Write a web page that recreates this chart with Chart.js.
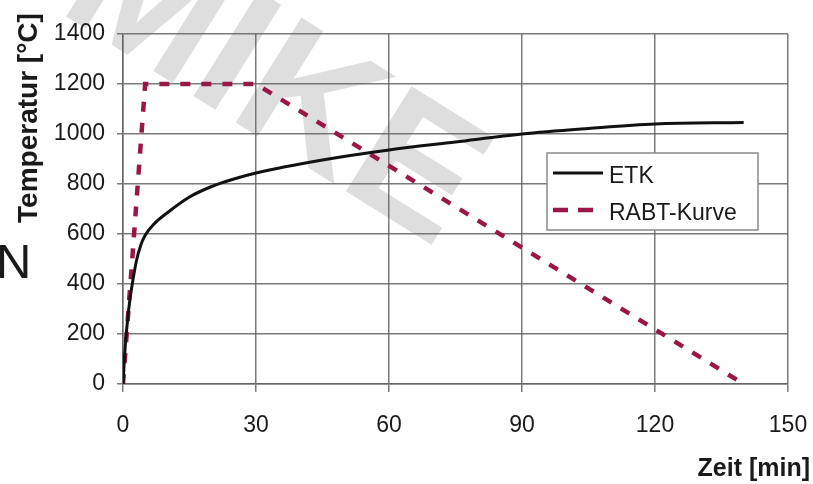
<!DOCTYPE html>
<html lang="de">
<head>
<meta charset="utf-8">
<title>ETK / RABT-Kurve</title>
<script src="https://cdn.jsdelivr.net/npm/chart.js@4/dist/chart.umd.min.js"></script>
<style>
    html, body { margin: 0; padding: 0; background: #fff; }
    #wrap { width: 813px; height: 484px; position: relative; }
</style>
</head>
<body>
<div id="wrap"><canvas id="temp-chart"></canvas></div>
<script>
// === DATA ===
const xTicks = [0, 30, 60, 90, 120, 150];
const yTicks = [0, 200, 400, 600, 800, 1000, 1200, 1400];

const etkTime = [0, 0.5, 1, 1.5, 2, 3, 4, 5, 7, 10, 15, 20, 25, 30, 45, 60, 75, 90, 105, 120, 140];
const etkTemp = [0, 150, 250, 330, 390, 490, 555, 595, 640, 685, 748, 790, 820, 844, 896, 936, 968, 1000, 1022, 1040, 1046];

const rabtTime = [0, 5, 30, 140];
const rabtTemp = [0, 1200, 1200, 0];

const seriesLabels = ['ETK', 'RABT-Kurve'];

document.addEventListener('DOMContentLoaded', () => {
    const canvas = document.getElementById('temp-chart');
    const ctx = canvas.getContext('2d');

    const FONT = '"Liberation Sans", Arial, sans-serif';
    const GRID = 'rgba(100,100,100,0.85)';
    const RED = '#9a1648';

    const toPoints = (xs, ys) => xs.map((x, i) => ({ x: x, y: ys[i] }));

    // no extra room for label overhang, the padding below sets the plot box
    const noOverhang = (scale) => {
        scale.paddingLeft = 0;
        scale.paddingRight = 0;
        scale.paddingTop = 0;
        scale.paddingBottom = 0;
    };

    // === PLUGINS: watermark, titles, legend box ===
    const decorPlugin = {
        id: 'decor',
        beforeDraw: (chart) => {
            const c = chart.ctx;
            c.save();
            c.fillStyle = '#dedede';
            c.font = 'bold 180px ' + FONT;
            c.translate(56, 10);
            c.rotate(32 * Math.PI / 180);
            c.fillText('MIKE', 0, 0);
            c.restore();
        },
        afterDraw: (chart) => {
            const c = chart.ctx;
            c.save();
            c.fillStyle = '#1a1a1a';

            // y title
            c.save();
            c.font = 'bold 28px ' + FONT;
            c.translate(37, 118);
            c.rotate(-Math.PI / 2);
            c.textAlign = 'center';
            c.fillText('Temperatur [°C]', 0, 0);
            c.restore();

            // x title
            c.font = 'bold 25px ' + FONT;
            c.textAlign = 'right';
            c.fillText('Zeit [min]', 810, 476);

            // stray letter on the left edge
            c.font = '49px ' + FONT;
            c.textAlign = 'left';
            c.fillText('N', -4, 278);

            // legend
            const ds = chart.data.datasets;
            c.fillStyle = '#fff';
            c.fillRect(547, 153, 211, 77);
            c.strokeStyle = '#8a8a8a';
            c.lineWidth = 1.5;
            c.strokeRect(547, 153, 211, 77);

            const rows = [173, 210];
            ds.forEach((d, i) => {
                c.beginPath();
                c.strokeStyle = d.borderColor;
                c.lineWidth = d.borderWidth;
                c.setLineDash(d.borderDash ? [15, 10] : []);
                c.moveTo(553, rows[i]);
                c.lineTo(i === 0 ? 603 : 593, rows[i]);
                c.stroke();
                c.setLineDash([]);
                c.fillStyle = '#1a1a1a';
                c.font = '23px ' + FONT;
                c.fillText(d.label, 609, rows[i] + 10);
            });
            c.restore();
        }
    };

    new Chart(ctx, {
        type: 'line',
        data: {
            datasets: [{
                label: seriesLabels[0],
                data: toPoints(etkTime, etkTemp),
                borderColor: '#111',
                borderWidth: 3,
                pointRadius: 0,
                cubicInterpolationMode: 'monotone',
                fill: false
            }, {
                label: seriesLabels[1],
                data: toPoints(rabtTime, rabtTemp),
                borderColor: RED,
                borderWidth: 4.5,
                borderDash: [10, 11],
                pointRadius: 0,
                tension: 0,
                fill: false
            }]
        },
        options: {
            responsive: true,
            maintainAspectRatio: false,
            animation: false,
            layout: { padding: { left: 0, right: 25, top: 34, bottom: 0 } },
            scales: {
                x: {
                    type: 'linear',
                    min: xTicks[0],
                    max: xTicks[xTicks.length - 1],
                    afterBuildTicks: (scale) => { scale.ticks = xTicks.map(v => ({ value: v })); },
                    afterFit: (scale) => { scale.height = 100; noOverhang(scale); },
                    grid: { color: GRID, lineWidth: 1.5, tickLength: 8 },
                    border: { color: GRID, width: 1.5 },
                    ticks: {
                        padding: 20,
                        color: '#1a1a1a',
                        font: { family: FONT, size: 23 },
                        callback: (value) => String(value)
                    }
                },
                y: {
                    min: yTicks[0],
                    max: yTicks[yTicks.length - 1],
                    afterBuildTicks: (scale) => { scale.ticks = yTicks.map(v => ({ value: v })); },
                    afterFit: (scale) => { scale.width = 123; noOverhang(scale); },
                    grid: { color: GRID, lineWidth: 1.5, tickLength: 6 },
                    border: { color: GRID, width: 1.5 },
                    ticks: {
                        padding: 12,
                        color: '#1a1a1a',
                        font: { family: FONT, size: 23 },
                        callback: (value) => String(value)
                    }
                }
            },
            plugins: {
                legend: { display: false },
                tooltip: { enabled: false }
            }
        },
        plugins: [decorPlugin]
    });
});
</script>
</body>
</html>
